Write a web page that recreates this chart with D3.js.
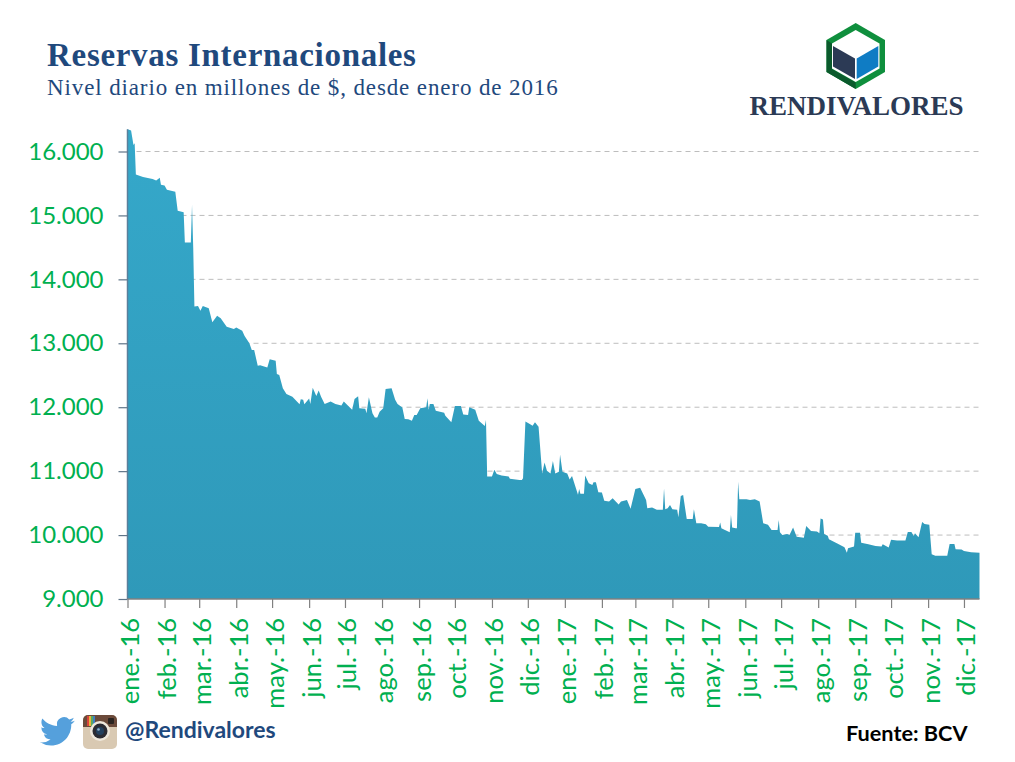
<!DOCTYPE html>
<html>

<head>
    <meta charset="utf-8">
    <script src="https://d3js.org/d3.v7.min.js"></script>
    <style type="text/css">
    html, body {
        margin: 0;
        padding: 0;
        background: #fff;
    }
    svg {
        display: block;
    }
    .tick-label {
        font-family: "Lato", "Open Sans", sans-serif;
        fill: #00b050;
    }
    </style>
</head>

<body>
    <div id="chart"></div>
    <script type="text/javascript">
    // dias desde el 1 de enero de 2016
    var dias = [0,3,5,6,7,13,21,24,27,28,31,33,40,42,47,48,53,54,55,56,59,61,63,68,71,75,78,83,89,91,96,98,102,104,106,109,111,117,119,124,125,127,130,133,138,144,145,147,148,152,153,155,158,160,162,165,170,174,179,181,188,190,193,194,199,200,202,205,207,209,211,214,216,221,224,226,230,232,235,238,240,242,245,250,251,252,253,256,258,265,266,271,274,279,281,285,286,291,294,299,300,301,305,307,309,313,319,320,328,330,331,333,337,339,341,344,347,349,351,354,356,358,361,362,364,368,370,372,377,378,379,382,383,386,389,390,392,394,397,399,403,406,411,413,418,421,425,429,434,435,439,443,448,449,450,452,454,456,460,461,463,465,468,473,474,476,480,484,486,495,496,497,500,504,505,506,509,510,511,512,518,521,525,529,532,536,539,544,545,546,548,552,554,557,560,566,568,572,577,579,580,582,583,586,587,594,600,602,603,608,609,613,614,620,626,631,632,637,639,644,651,653,656,658,659,662,665,667,671,673,676,686,688,692,693,698,700,706,713];

    var reservas = [16350,16330,16100,16130,15640,15600,15570,15545,15590,15480,15470,15400,15370,15075,15050,14575,14575,15165,14500,13575,13585,13510,13585,13550,13330,13430,13390,13260,13225,13245,13195,13115,13000,12895,12895,12650,12655,12620,12750,12725,12520,12505,12295,12205,12165,12045,12125,12115,12045,12135,12050,12305,12175,12260,12165,12050,12090,12050,12025,12090,11960,12130,12170,11985,11975,11905,12155,11905,11840,11840,11930,11985,12285,12295,12115,12050,11995,11815,11810,11790,11880,11880,11985,12000,12140,11960,12050,12050,11945,11915,11865,11765,12020,12020,11885,11880,12000,11960,11790,11705,11800,10915,10915,11020,10955,10930,10915,10880,10860,10860,10890,11775,11735,11710,11765,11695,10965,11135,11005,10965,11160,10965,10990,11255,10990,10965,10870,10925,10630,10720,10645,10645,10930,10810,10785,10825,10825,10670,10665,10535,10525,10575,10480,10525,10550,10410,10720,10740,10550,10420,10430,10395,10395,10730,10405,10420,10470,10405,10395,10280,10610,10625,10250,10250,10405,10185,10185,10170,10130,10125,10195,10105,10080,10045,10315,10120,10105,10105,10835,10560,10560,10550,10560,10525,10185,10160,10080,10080,10235,10045,10000,10015,10000,10120,9975,9960,10140,10065,10055,10030,10260,10245,10015,9990,9935,9870,9810,9725,9795,9820,10035,10035,9880,9855,9830,9820,9855,9805,9925,9915,9915,10050,10050,9985,10030,9965,10205,10175,10160,9700,9675,9675,9860,9860,9780,9775,9750,9730,9725];

    var mesesLabels = ["ene.-16","feb.-16","mar.-16","abr.-16","may.-16","jun.-16","jul.-16","ago.-16","sep.-16","oct.-16","nov.-16","dic.-16","ene.-17","feb.-17","mar.-17","abr.-17","may.-17","jun.-17","jul.-17","ago.-17","sep.-17","oct.-17","nov.-17","dic.-17"];
    var yTicks = [9000,10000,11000,12000,13000,14000,15000,16000];

    var inicio = new Date(2016, 0, 1);
    var fechas = dias.map(function(d) { return d3.timeDay.offset(inicio, d); });
    var meses = mesesLabels.map(function(d, i) { return new Date(2016, i, 1); });

    var serie = dias.map(function(d, i) { return { fecha: fechas[i], valor: reservas[i] }; });

    var svg = d3.select("#chart").append("svg")
        .attr("width", 1015)
        .attr("height", 762);

    var x = d3.scaleTime()
        .domain([inicio, fechas[fechas.length - 1]])
        .range([127.5, 979.5]);

    var y = d3.scaleLinear()
        .domain([9000, 16000])
        .range([599, 151.5]);

    var grad = svg.append("defs").append("linearGradient")
        .attr("id", "areaFill")
        .attr("x1", 0).attr("y1", 0).attr("x2", 0).attr("y2", 1);
    grad.append("stop").attr("offset", "0%").attr("stop-color", "#35a8ca");
    grad.append("stop").attr("offset", "100%").attr("stop-color", "#2f99b9");

    // lineas de la grilla
    svg.append("g").selectAll("line")
        .data(yTicks.slice(1))
        .enter()
        .append("line")
        .attr("x1", 127.5)
        .attr("x2", 979.5)
        .attr("y1", function(d) { return y(d); })
        .attr("y2", function(d) { return y(d); })
        .attr("stroke", "#bdbdbd")
        .attr("stroke-width", 1)
        .attr("stroke-dasharray", "5,4");

    var area = d3.area()
        .x(function(d) { return x(d.fecha); })
        .y0(y(9000))
        .y1(function(d) { return y(d.valor); });

    svg.append("path")
        .datum(serie)
        .attr("d", area)
        .attr("fill", "url(#areaFill)");

    var yAxis = d3.axisLeft(y)
        .tickValues(yTicks)
        .tickSize(9)
        .tickFormat(function(d) { return d3.format(",")(d).replace(",", "."); });

    var gy = svg.append("g")
        .attr("transform", "translate(127.5,0)")
        .call(yAxis);
    gy.select(".domain")
        .attr("stroke", "#5b7f9b")
        .attr("stroke-width", 1.5)
        .attr("d", "M0," + y(16350) + "V" + y(9000));
    gy.selectAll(".tick line").attr("stroke", "#5f7488").attr("stroke-width", 1.2);
    gy.selectAll(".tick text")
        .attr("class", "tick-label")
        .attr("x", -24)
        .style("font-size", "24px");

    var xAxis = d3.axisBottom(x)
        .tickValues(meses)
        .tickSize(9)
        .tickFormat(function(d, i) { return mesesLabels[i]; });

    var gx = svg.append("g")
        .attr("transform", "translate(0,599)")
        .call(xAxis);
    gx.select(".domain").attr("stroke", "#808080").attr("stroke-width", 1.5).attr("d", "M127.5,0H979.5");
    gx.selectAll(".tick line").attr("stroke", "#808080").attr("stroke-width", 1.2);
    gx.selectAll(".tick text")
        .attr("class", "tick-label")
        .attr("transform", "rotate(-90)")
        .attr("text-anchor", "end")
        .attr("dy", "0.35em")
        .attr("dx", 0)
        .attr("x", -19)
        .attr("y", 2)
        .style("font-size", "25.5px");

    // titulos
    svg.append("text")
        .attr("x", 47).attr("y", 66)
        .attr("font-family", "Liberation Serif")
        .attr("font-weight", "bold")
        .attr("font-size", 33)
        .attr("letter-spacing", 0.7)
        .attr("fill", "#1f497d")
        .text("Reservas Internacionales");

    svg.append("text")
        .attr("x", 47).attr("y", 95)
        .attr("font-family", "Liberation Serif")
        .attr("font-size", 23)
        .attr("letter-spacing", 0.88)
        .attr("fill", "#1f497d")
        .text("Nivel diario en millones de $, desde enero de 2016");

    // logo
    var logo = svg.append("g");
    logo.append("polygon").attr("points", "855.7,23 885,40 885,72 855.7,89 826.5,72 826.5,40").attr("fill", "#0f8f3d");
    logo.append("polygon").attr("points", "855.7,89 826.5,72 826.5,40 832,43.5 832,69 855.7,82.5").attr("fill", "#0b5a2c");
    logo.append("polygon").attr("points", "855.7,30 879.5,43.5 879.5,68.5 855.7,82 832,68.5 832,43.5").attr("fill", "#fff");
    logo.append("polygon").attr("points", "833,46 855,58.5 855,79 833,66.5").attr("fill", "#2c3a55");
    logo.append("polygon").attr("points", "856.7,58.5 878.3,46 878.3,66.5 856.7,79").attr("fill", "#0f7cc4");

    svg.append("text")
        .attr("x", 856.5).attr("y", 115)
        .attr("text-anchor", "middle")
        .attr("font-family", "Liberation Serif")
        .attr("font-weight", "bold")
        .attr("font-size", 27)
        .attr("fill", "#2b3a55")
        .text("RENDIVALORES");

    // pie: twitter, instagram, usuario, fuente
    svg.append("path")
        .attr("transform", "translate(40,714) scale(1.45)")
        .attr("fill", "#55a0dc")
        .attr("d", "M23.953 4.57a10 10 0 01-2.825.775 4.958 4.958 0 002.163-2.723c-.951.555-2.005.959-3.127 1.184a4.92 4.92 0 00-8.384 4.482C7.69 8.095 4.067 6.13 1.64 3.162a4.822 4.822 0 00-.666 2.475c0 1.71.87 3.213 2.188 4.096a4.904 4.904 0 01-2.228-.616v.06a4.923 4.923 0 003.946 4.827 4.996 4.996 0 01-2.212.085 4.936 4.936 0 004.604 3.417 9.867 9.867 0 01-6.102 2.105c-.39 0-.779-.023-1.17-.067a13.995 13.995 0 007.557 2.209c9.053 0 13.998-7.496 13.998-13.985 0-.21 0-.42-.015-.63A9.935 9.935 0 0024 4.59z");

    var insta = svg.append("g");
    insta.append("rect").attr("x", 83).attr("y", 715).attr("width", 34).attr("height", 34).attr("rx", 5).attr("fill", "#d9c9b2");
    insta.append("path").attr("d", "M83,727V720a5,5 0 0 1 5,-5H112a5,5 0 0 1 5,5V727Z").attr("fill", "#6b4a3a");
    insta.append("rect").attr("x", 87).attr("y", 716).attr("width", 2).attr("height", 10).attr("fill", "#d8443c");
    insta.append("rect").attr("x", 89).attr("y", 716).attr("width", 2).attr("height", 10).attr("fill", "#e8b53c");
    insta.append("rect").attr("x", 91).attr("y", 716).attr("width", 2).attr("height", 10).attr("fill", "#5aa860");
    insta.append("rect").attr("x", 93).attr("y", 716).attr("width", 2).attr("height", 10).attr("fill", "#3f7fc0");
    insta.append("rect").attr("x", 108).attr("y", 718).attr("width", 6).attr("height", 6).attr("rx", 1).attr("fill", "#2a2320");
    insta.append("circle").attr("cx", 100).attr("cy", 731).attr("r", 10).attr("fill", "#efe8dc");
    insta.append("circle").attr("cx", 100).attr("cy", 731).attr("r", 7.5).attr("fill", "#2b2b33");
    insta.append("circle").attr("cx", 100).attr("cy", 731).attr("r", 4).attr("fill", "#23405e");
    insta.append("circle").attr("cx", 98.5).attr("cy", 729.5).attr("r", 1.3).attr("fill", "#8fb0cc");

    svg.append("text")
        .attr("x", 125).attr("y", 738)
        .attr("font-family", "Lato")
        .attr("font-weight", "bold")
        .attr("font-size", 23)
        .attr("fill", "#1f497d")
        .text("@Rendivalores");

    svg.append("text")
        .attr("x", 846).attr("y", 741)
        .attr("font-family", "Lato")
        .attr("font-weight", "bold")
        .attr("font-size", 21.7)
        .attr("fill", "#000")
        .text("Fuente: BCV");
    </script>
</body>
